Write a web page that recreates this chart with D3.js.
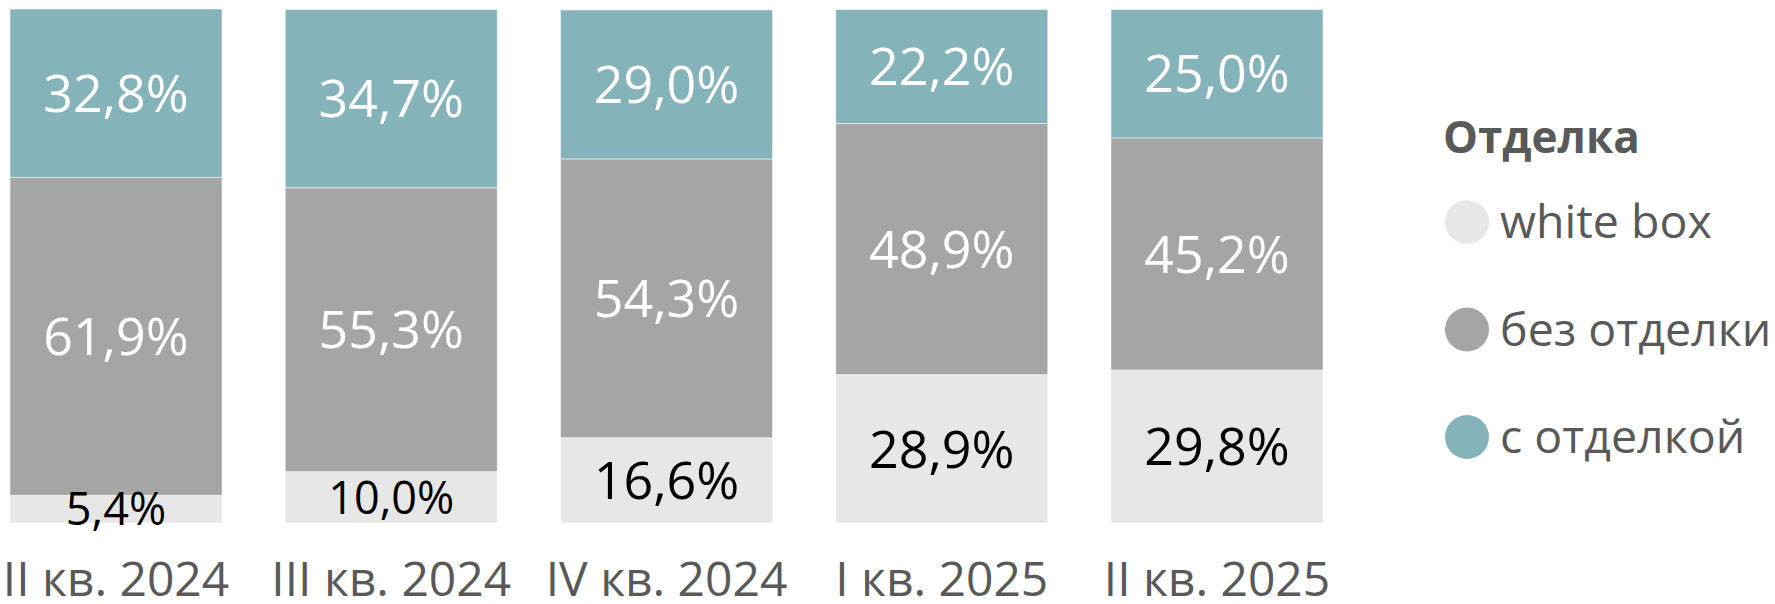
<!DOCTYPE html>
<html>
<head>
<meta charset="utf-8">
<script src="https://cdn.jsdelivr.net/npm/d3@7"></script>
<style>
  html, body { margin: 0; padding: 0; background: #ffffff; }
  svg { display: block; }
  text { font-family: "Open Sans", "Noto Sans", sans-serif; }
</style>
</head>
<body>
<svg id="chart" width="1775" height="604"></svg>
<script>
// ---- data ----
const categories = ["II кв. 2024", "III кв. 2024", "IV кв. 2024", "I кв. 2025", "II кв. 2025"];
const whiteBox   = [5.4, 10.0, 16.6, 28.9, 29.8];
const bezOtdelki = [61.9, 55.3, 54.3, 48.9, 45.2];
const sOtdelkoy  = [32.8, 34.7, 29.0, 22.2, 25.0];
const seriesKeys  = ["whiteBox", "bezOtdelki", "sOtdelkoy"];
const seriesNames = ["white box", "без отделки", "с отделкой"];
const legendTitle = "Отделка";

// ---- styles ----
const colors = { whiteBox: "#E7E7E7", bezOtdelki: "#A5A5A5", sOtdelkoy: "#84B3B9" };
const labelColors = { whiteBox: "#000000", bezOtdelki: "#ffffff", sOtdelkoy: "#ffffff" };

const rows = categories.map((c, i) => ({
  cat: c, whiteBox: whiteBox[i], bezOtdelki: bezOtdelki[i], sOtdelkoy: sOtdelkoy[i]
}));

const svg = d3.select("#chart");

const x = d3.scaleBand()
  .domain(categories)
  .range([0, 1333])
  .paddingInner(0.2298)
  .paddingOuter(0.0363);

const y = d3.scaleLinear().domain([0, 100]).range([523, 9.5]);

const stacked = d3.stack().keys(seriesKeys)(rows);

const fmt = v => d3.format(".1f")(v).replace(".", ",") + "%";

const layers = svg.append("g").selectAll("g.layer")
  .data(stacked).join("g")
  .attr("class", "layer")
  .attr("fill", d => colors[d.key]);

layers.selectAll("rect")
  .data(d => d.map(p => Object.assign(p, { key: d.key })))
  .join("rect")
  .attr("x", d => x(d.data.cat))
  .attr("width", x.bandwidth())
  .attr("y", d => y(d[1]))
  .attr("height", d => y(d[0]) - y(d[1]))
  .attr("stroke", "#ffffff")
  .attr("stroke-opacity", 0.5)
  .attr("stroke-width", 1);

// value labels
const labels = svg.append("g");
stacked.forEach(layer => {
  labels.selectAll(null)
    .data(layer)
    .join("text")
    .attr("x", d => x(d.data.cat) + x.bandwidth() / 2)
    .attr("y", d => (y(d[0]) + y(d[1])) / 2)
    .attr("dy", "0.36em")
    .attr("text-anchor", "middle")
    .attr("font-size", d => (y(d[0]) - y(d[1])) < 60 ? 45 : 52)
    .attr("fill", labelColors[layer.key])
    .text(d => fmt(d.data[layer.key]));
});

// x axis
const xAxis = svg.append("g")
  .attr("transform", "translate(0,523)")
  .call(d3.axisBottom(x).tickSize(0).tickPadding(0));
xAxis.select(".domain").remove();
xAxis.selectAll("text")
  .attr("font-family", "\"Open Sans\", sans-serif")
  .attr("font-size", 48)
  .attr("fill", "#595959")
  .attr("dy", null)
  .attr("y", 73);

// legend
const legend = svg.append("g");
legend.append("text")
  .attr("x", 1443)
  .attr("y", 153)
  .attr("font-size", 44)
  .attr("font-weight", "bold")
  .attr("fill", "#595959")
  .text(legendTitle);

const items = legend.selectAll("g.item")
  .data(seriesKeys).join("g")
  .attr("class", "item")
  .attr("transform", (d, i) => `translate(0,${222 + i * 107.5})`);

items.append("circle")
  .attr("cx", 1467)
  .attr("cy", 0)
  .attr("r", 22)
  .attr("fill", d => colors[d]);

items.append("text")
  .attr("x", 1500)
  .attr("y", 16)
  .attr("font-size", 46.5)
  .attr("fill", "#595959")
  .text((d, i) => seriesNames[i]);
</script>
</body>
</html>
